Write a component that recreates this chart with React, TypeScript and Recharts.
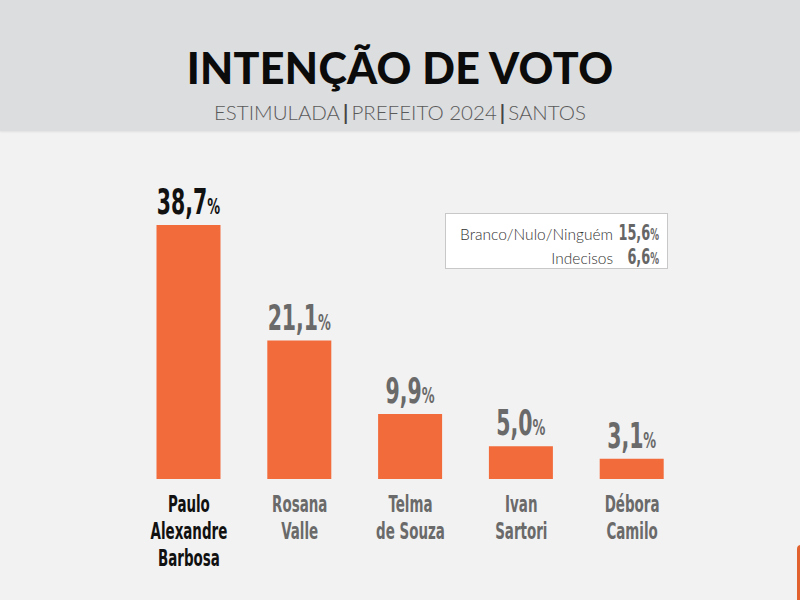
import React from "react";
import { BarChart, Bar, XAxis, YAxis, LabelList } from "recharts";

const candidates = ["Paulo Alexandre Barbosa", "Rosana Valle", "Telma de Souza", "Ivan Sartori", "Débora Camilo"];
const nameLines = [
  ["Paulo", "Alexandre", "Barbosa"],
  ["Rosana", "Valle"],
  ["Telma", "de Souza"],
  ["Ivan", "Sartori"],
  ["Débora", "Camilo"],
];
const votes = [38.7, 21.1, 9.9, 5.0, 3.1];
const otherLabels = ["Branco/Nulo/Ninguém", "Indecisos"];
const otherValues = [15.6, 6.6];

const data = candidates.map((name, i) => ({ name, votes: votes[i], lines: nameLines[i] }));

const ORANGE = "#f26b3b";
const NARROW = "'Liberation Sans Narrow', 'DejaVu Sans Condensed', 'Roboto Condensed', Arial, sans-serif";
const SQUEEZE = 0.65;

const fmt = (v: number) => v.toFixed(1).replace(".", ",");

function NameTick({ x, y, payload, index }: any) {
  const lines = nameLines[index] ?? [String(payload.value)];
  const first = index === 0;
  return (
    <g transform={`translate(${x},${y}) scale(${SQUEEZE},1)`}>
      {lines.map((ln: string, i: number) => (
        <text
          key={i}
          x={0}
          y={33 + i * 27}
          textAnchor="middle"
          fontFamily={NARROW}
          fontWeight={700}
          fontSize={23}
          fill={first ? "#111" : "#6a6a6a"}
        >
          {ln}
        </text>
      ))}
    </g>
  );
}

function ValueLabel({ x, y, width, value, index }: any) {
  const cx = x + width / 2;
  const first = index === 0;
  return (
    <g transform={`translate(${cx},${y - 11}) scale(${SQUEEZE},1)`}>
      <text
        x={0}
        y={0}
        textAnchor="middle"
        fontFamily={NARROW}
        fontWeight={700}
        fontSize={35}
        fill={first ? "#111" : "#6a6a6a"}
      >
        {fmt(value)}
        <tspan fontSize={22}>%</tspan>
      </text>
    </g>
  );
}

export default function App() {
  return (
    <div style={{ position: "fixed", left: 0, top: 0, width: 800, height: 600, background: "#f2f2f2", overflow: "hidden" }}>
      {/* header band */}
      <div
        style={{
          position: "absolute", left: 0, top: 0, width: 800, height: 131,
          background: "#dcdddf", boxShadow: "0 1px 2px rgba(0,0,0,0.08)",
        }}
      >
        <div
          style={{
            position: "absolute", left: 0, top: 40, width: 800, textAlign: "center",
            fontFamily: "Lato, 'Noto Sans', sans-serif", fontWeight: 900, fontSize: 43,
            lineHeight: "56px", color: "#0b0b0b", letterSpacing: 0.3,
          }}
        >
          INTENÇÃO DE VOTO
        </div>
        <div
          style={{
            position: "absolute", left: 0, top: 98, width: 800, textAlign: "center",
            fontFamily: "Lato, 'Noto Sans', sans-serif", fontWeight: 300, fontSize: 20.5,
            lineHeight: "28px", color: "#5a5a5a",
          }}
        >
          ESTIMULADA<span style={{ fontWeight: 700, margin: "0 3px", color: "#444" }}>|</span>PREFEITO 2024
          <span style={{ fontWeight: 700, margin: "0 3px", color: "#444" }}>|</span>SANTOS
        </div>
      </div>

      {/* other answers box */}
      <div
        style={{
          position: "absolute", left: 445, top: 213, width: 223, height: 56, boxSizing: "border-box",
          background: "#fff", border: "1px solid #c8c8c8",
        }}
      >
        {otherLabels.map((lb, i) => (
          <div
            key={lb}
            style={{
              position: "absolute", right: 8, top: 6 + i * 24, height: 24, display: "flex",
              alignItems: "baseline", justifyContent: "flex-end", whiteSpace: "nowrap",
            }}
          >
            <span style={{ fontFamily: "Lato, 'Noto Sans', sans-serif", fontWeight: 300, fontSize: 15.5, color: "#333", marginRight: 7 }}>
              {lb}
            </span>
            <span
              style={{
                fontFamily: NARROW, fontWeight: 700, fontSize: 22, color: "#666", width: 39, textAlign: "right",
                display: "inline-block", transform: `scaleX(${SQUEEZE})`, transformOrigin: "right",
              }}
            >
              <span style={{ display: "inline-block", whiteSpace: "nowrap", marginLeft: -40 }}>
                {fmt(otherValues[i])}
                <span style={{ fontSize: 15 }}>%</span>
              </span>
            </span>
          </div>
        ))}
      </div>

      <div style={{ position: "absolute", left: 797, top: 545, width: 12, height: 60, background: "#e2622f", borderRadius: 4 }} />

      <div style={{ position: "absolute", left: 0, top: 0 }}>
        <BarChart
          width={800}
          height={600}
          data={data}
          margin={{ top: 216.5, right: 112.5, bottom: 0, left: 133.5 }}
        >
          <XAxis
            dataKey="name"
            axisLine={false}
            tickLine={false}
            tickSize={0}
            tickMargin={0}
            height={121}
            interval={0}
            tick={<NameTick />}
          />
          <YAxis hide domain={[0, 40]} />
          <Bar dataKey="votes" fill={ORANGE} barSize={64} isAnimationActive={false}>
            <LabelList dataKey="votes" content={<ValueLabel />} />
          </Bar>
        </BarChart>
      </div>
    </div>
  );
}
